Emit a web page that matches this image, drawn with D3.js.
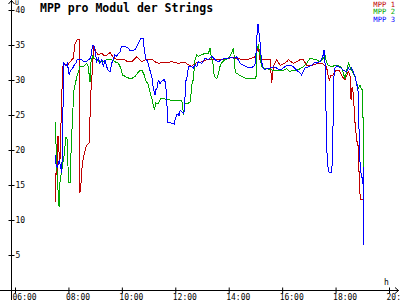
<!DOCTYPE html>
<html>
<head>
<meta charset="utf-8">
<script src="https://cdn.jsdelivr.net/npm/d3@7"></script>
<style>
  body { margin: 0; background: #fff; }
  svg { display: block; }
  text { font-family: "DejaVu Sans Mono", "Liberation Mono", monospace; }
</style>
</head>
<body>
<svg width="400" height="300"></svg>
<script>
// time in hours, values in volts
const mpp1Time = [7.50,7.50,7.56,7.58,7.61,7.66,7.68,7.75,7.79,7.83,7.94,8.06,8.18,8.25,8.33,8.40,8.43,8.46,8.50,8.56,8.68,8.78,8.83,8.91,8.95,9.03,9.12,9.25,9.37,9.56,9.67,9.81,10.04,10.23,10.37,10.56,10.74,10.93,11.12,11.24,11.36,11.61,11.87,12.10,12.36,12.61,12.74,12.99,13.22,13.60,13.86,14.11,14.42,14.67,14.98,15.11,15.17,15.55,15.61,15.67,15.80,15.92,16.04,16.17,16.23,16.42,16.54,16.67,16.79,16.92,17.04,17.29,17.52,17.66,17.72,17.77,17.81,17.90,18.02,18.14,18.23,18.29,18.35,18.42,18.48,18.54,18.58,18.62,18.66,18.73,18.79,18.85,18.89,18.91,18.94,19.04];
const mpp1 = [12.6,15.3,17.6,15.7,22.0,19.0,18.0,27.6,31.9,32.4,32.0,32.6,33.1,35.2,35.8,35.8,13.9,14.5,17.1,19.0,20.7,21.0,27.6,32.4,35.0,34.0,33.6,33.8,33.4,33.9,33.3,32.9,33.0,32.6,32.6,33.3,32.6,33.0,33.0,32.6,32.4,32.5,32.6,32.4,32.5,31.9,32.4,32.6,33.0,33.0,33.0,33.2,33.0,32.9,33.3,34.8,32.9,32.9,29.6,31.9,32.9,32.1,32.3,32.6,32.9,32.4,32.6,32.9,32.9,32.1,32.0,32.3,32.3,31.9,30.7,29.8,30.7,30.7,31.4,31.3,30.6,30.3,30.0,30.7,31.2,30.6,27.1,29.0,28.1,23.8,21.4,20.5,15.3,13.8,12.9,12.9];

const mpp2Time = [7.50,7.53,7.58,7.65,7.68,7.75,7.83,7.91,7.96,8.00,8.06,8.09,8.16,8.21,8.31,8.43,8.56,8.68,8.74,8.81,8.83,8.91,8.99,9.18,9.31,9.43,9.62,9.74,9.87,9.96,10.03,10.18,10.30,10.37,10.49,10.59,10.68,10.76,10.84,10.89,10.99,11.05,11.12,11.18,11.22,11.27,11.36,11.41,11.46,11.55,11.68,11.87,12.04,12.21,12.27,12.30,12.33,12.36,12.49,12.55,12.59,12.61,12.67,12.74,12.80,12.86,12.99,13.11,13.24,13.30,13.36,13.42,13.46,13.55,13.61,13.67,13.73,13.86,13.98,14.11,14.15,14.18,14.21,14.24,14.27,14.36,14.49,14.67,14.86,15.02,15.05,15.11,15.17,15.20,15.23,15.29,15.67,16.04,16.17,16.29,16.42,16.54,16.67,16.79,16.92,17.04,17.16,17.29,17.41,17.54,17.60,17.66,17.73,17.86,17.98,18.10,18.23,18.29,18.35,18.42,18.48,18.54,18.60,18.66,18.73,18.79,18.85,18.91,18.98,19.02,19.04,19.06];
const mpp2 = [24.0,21.4,16.2,11.9,15.3,17.1,19.0,21.9,21.4,15.3,15.3,19.0,25.3,28.6,30.4,31.9,31.9,32.4,31.9,29.7,32.4,33.4,33.0,32.6,32.6,32.9,32.9,32.6,32.4,31.7,30.7,30.4,30.2,30.2,30.5,31.0,31.4,31.3,30.7,30.0,29.3,28.3,27.4,26.4,25.7,26.7,26.6,27.0,27.4,27.4,27.2,27.1,27.0,27.1,26.8,25.0,25.5,26.7,26.7,26.8,28.1,29.3,30.0,32.9,33.6,33.4,33.6,33.8,33.8,34.5,33.1,32.1,30.5,30.2,30.8,31.9,32.4,32.9,33.1,33.8,34.3,34.5,33.1,31.4,31.0,30.8,30.5,30.2,30.2,30.2,34.5,35.0,33.6,32.6,32.0,31.7,31.4,31.4,31.6,31.2,31.4,31.4,31.6,31.9,32.4,33.1,33.0,32.9,32.6,33.1,33.6,32.6,32.1,31.9,32.1,32.1,31.7,31.0,30.2,31.4,32.4,31.9,31.4,31.0,30.5,29.5,28.8,29.3,28.6,28.6,17.6,17.1];

const mpp3Time = [7.50,7.50,7.53,7.58,7.66,7.71,7.75,7.79,7.81,7.83,7.91,7.96,8.00,8.03,8.08,8.15,8.21,8.28,8.33,8.43,8.53,8.58,8.68,8.74,8.83,8.91,8.95,8.99,9.06,9.12,9.18,9.25,9.31,9.37,9.43,9.49,9.56,9.62,9.74,9.81,9.87,9.93,9.99,10.12,10.23,10.30,10.49,10.59,10.72,10.80,10.84,10.89,10.97,11.05,11.12,11.18,11.24,11.27,11.34,11.36,11.43,11.49,11.59,11.64,11.68,11.72,11.76,11.87,11.96,11.99,12.05,12.11,12.15,12.18,12.24,12.30,12.33,12.36,12.39,12.43,12.46,12.51,12.61,12.67,12.74,12.80,12.86,12.99,13.11,13.24,13.36,13.49,13.61,13.73,13.86,13.98,14.05,14.18,14.30,14.42,14.55,14.67,14.80,14.92,14.98,15.05,15.07,15.11,15.14,15.17,15.20,15.23,15.29,15.36,15.42,15.55,15.67,15.80,15.92,16.04,16.17,16.29,16.42,16.54,16.67,16.73,16.79,16.86,16.98,17.10,17.23,17.29,17.41,17.52,17.57,17.60,17.64,17.66,17.69,17.73,17.79,17.86,17.89,17.94,17.98,18.04,18.17,18.29,18.42,18.48,18.54,18.60,18.66,18.73,18.79,18.83,18.85,18.89,18.91,18.94,18.98,19.02,19.04,19.06];
const mpp3 = [19.3,18.9,18.1,17.5,18.5,17.5,16.7,22.9,31.4,32.4,32.0,32.4,31.4,30.7,31.4,31.6,32.1,32.4,32.9,33.0,32.8,32.6,32.6,32.9,33.1,35.0,35.0,34.3,32.6,33.1,32.4,32.9,31.9,32.9,31.9,31.4,31.2,32.4,33.6,33.4,33.8,34.0,34.8,34.8,34.6,34.2,34.3,35.0,36.0,36.0,34.3,33.1,32.6,31.4,30.5,28.8,27.9,28.6,29.0,30.0,29.5,29.8,30.1,29.5,27.1,24.0,24.0,23.8,23.7,24.3,25.0,25.2,24.8,25.7,25.5,25.2,25.5,27.1,30.0,30.0,31.2,31.9,31.9,31.7,32.2,31.9,32.6,32.4,33.1,32.9,33.4,32.9,32.6,32.9,33.1,33.0,33.3,33.1,33.3,32.4,32.1,31.9,31.7,31.9,32.1,35.0,37.9,37.9,36.4,35.5,34.0,32.6,31.7,31.4,31.7,31.7,31.9,31.7,31.4,31.7,32.1,32.1,31.9,31.4,31.0,30.7,31.2,31.7,31.9,32.1,32.6,32.4,32.6,33.3,34.3,33.3,26.2,20.5,19.0,16.9,16.7,16.9,20.5,30.5,31.7,32.0,31.8,31.4,31.2,31.7,31.4,31.7,31.2,30.5,29.5,28.6,28.2,20.5,18.6,16.9,16.2,15.2,17.6,6.4];

const seriesNames = ["MPP 1", "MPP 2", "MPP 3"];
const seriesColors = ["#c00000", "#00a800", "#0000ff"];
const xTicks = [6, 8, 10, 12, 14, 16, 18, 20];
const xTickLabels = ["06:00", "08:00", "10:00", "12:00", "14:00", "16:00", "18:00", "20:00"];
const yTicks = [5, 10, 15, 20, 25, 30, 35, 40];

const svg = d3.select("svg");

const x = d3.scaleLinear().domain([6, 20]).range([15, 389]);
const y = d3.scaleLinear().domain([0, 40]).range([290, 10]);

// x axis
const gx = svg.append("g").attr("transform", "translate(0,290.5)")
  .call(d3.axisBottom(x).tickValues(xTicks).tickFormat((d, i) => xTickLabels[i]).tickSize(0));
gx.select(".domain").remove();
gx.selectAll(".tick line").attr("y1", -3).attr("y2", 3).attr("stroke", "#000");
gx.selectAll(".tick text")
  .attr("text-anchor", "start").attr("x", -3).attr("y", 9).attr("dy", 0)
  .attr("font-size", 8).attr("font-family", "DejaVu Sans Mono").attr("fill", "#000");

// y axis
const gy = svg.append("g").attr("transform", "translate(11.5,0)")
  .call(d3.axisLeft(y).tickValues(yTicks).tickSize(0));
gy.select(".domain").remove();
gy.selectAll(".tick line").attr("x1", -3).attr("x2", 3).attr("stroke", "#000");
gy.selectAll(".tick text")
  .attr("text-anchor", "start").attr("x", 4).attr("dy", "0.35em")
  .attr("font-size", 8).attr("font-family", "DejaVu Sans Mono").attr("fill", "#000");

svg.append("line").attr("x1", 0).attr("x2", 399).attr("y1", 290.5).attr("y2", 290.5).attr("stroke", "#000");
svg.append("line").attr("x1", 11.5).attr("x2", 11.5).attr("y1", 0).attr("y2", 300).attr("stroke", "#000");
// arrows
svg.append("path").attr("d", "M8.5,4 L11.5,0.5 L14.5,4").attr("fill", "none").attr("stroke", "#000");
svg.append("path").attr("d", "M395,287.5 L398.5,290.5 L395,293.5").attr("fill", "none").attr("stroke", "#000");

svg.append("text").attr("x", 15).attr("y", 4.5).attr("font-size", 6.5).text("U");
svg.append("text").attr("x", 384).attr("y", 285).attr("font-size", 8).text("h");

// title
svg.append("text").attr("x", 40).attr("y", 12)
  .attr("font-size", 11.5).attr("font-weight", "bold").text("MPP pro Modul der Strings");

// lines
const line = d3.line().x(d => x(d[0])).y(d => y(d[1]));
const data = [d3.zip(mpp1Time, mpp1), d3.zip(mpp2Time, mpp2), d3.zip(mpp3Time, mpp3)];

svg.selectAll(".series")
  .data(data)
  .join("path")
  .attr("class", "series")
  .attr("fill", "none")
  .attr("stroke", (d, i) => seriesColors[i])
  .attr("stroke-width", 1)
  .attr("shape-rendering", "crispEdges")
  .attr("d", line);

// legend
svg.selectAll(".legend")
  .data(seriesNames)
  .join("text")
  .attr("class", "legend")
  .attr("x", 395)
  .attr("y", (d, i) => 6.5 + i * 7.5)
  .attr("text-anchor", "end")
  .attr("font-size", 7.2)
  .attr("fill", (d, i) => seriesColors[i])
  .text(d => d);
</script>
</body>
</html>
